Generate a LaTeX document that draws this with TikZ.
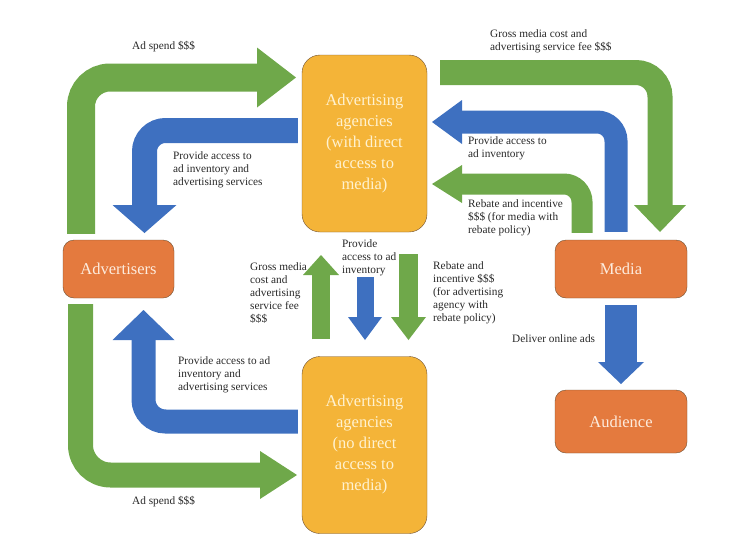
\documentclass[tikz,border=0pt]{standalone}
\usepackage{fontspec}
\setmainfont{Liberation Serif}

% heads of the broad flow arrows: colour, base point, half width, length
\newcommand{\headright}[4]{\fill[#1] (#2) ++(0,-#3) -- ++(#4,#3) -- ++(-#4,#3) -- cycle;}
\newcommand{\headleft}[4]{\fill[#1] (#2) ++(0,-#3) -- ++(-#4,#3) -- ++(#4,#3) -- cycle;}
\newcommand{\headup}[4]{\fill[#1] (#2) ++(-#3,0) -- ++(#3,-#4) -- ++(#3,#4) -- cycle;}
\newcommand{\headdown}[4]{\fill[#1] (#2) ++(-#3,0) -- ++(#3,#4) -- ++(#3,-#4) -- cycle;}

\begin{document}
\begin{tikzpicture}[x=1pt, y=-1pt,
    agency/.style={draw=boxline, fill=agencyfill, rounded corners=18pt,
      minimum width=125pt, minimum height=177pt, inner sep=0pt,
      align=center, text=agencytext, font=\fontsize{16.5}{21}\selectfont},
    party/.style={draw=boxline, fill=partyfill, rounded corners=11pt,
      minimum height=58pt, inner sep=0pt, text=partytext,
      font=\fontsize{16.5}{20}\selectfont},
    lbl/.style={anchor=north west, inner sep=0pt, align=left,
      text=labeltext, font=\fontsize{11.3}{13}\selectfont},
    greenflow/.style={draw=flowgreen},
    blueflow/.style={draw=flowblue}]

  % Colors: office-like green, blue, orange and gold
  \definecolor{flowgreen}{RGB}{111,168,74}
  \definecolor{flowblue}{RGB}{62,112,192}
  \definecolor{agencyfill}{RGB}{244,180,56}
  \definecolor{agencytext}{RGB}{255,242,208}
  \definecolor{partyfill}{RGB}{228,122,62}
  \definecolor{partytext}{RGB}{253,236,222}
  \definecolor{boxline}{RGB}{110,80,50}
  \definecolor{labeltext}{RGB}{40,40,40}

  \useasboundingbox (0,0) rectangle (747,555);

  % --- boxes ---
  \node[agency] (agdirect) at (364.5,143.5) {Advertising\\agencies\\(with direct\\access to\\media)};
  \node[agency] (agnodirect) at (364.5,445) {Advertising\\agencies\\(no direct\\access to\\media)};
  \node[party, minimum width=111pt] (advertisers) at (118.5,269) {Advertisers};
  \node[party, minimum width=132pt] (media) at (621,269) {Media};
  \node[party, minimum width=132pt, minimum height=63pt] (audience) at (621,421.5) {Audience};

  % --- advertisers -> agency with direct access: ad spend ---
  \coordinate (spendtop) at (257,77.5);
  \draw[greenflow, line width=28pt, rounded corners=29pt]
    ([xshift=-37.5pt,yshift=6pt]advertisers.north) |- (spendtop);
  \headright{flowgreen}{spendtop}{30}{39}

  % agency with direct access -> advertisers: services
  \coordinate (servtop) at (144.5,205);
  \draw[blueflow, line width=25pt, rounded corners=21pt]
    ([xshift=-4pt,yshift=13pt]agdirect.west) -| (servtop);
  \headdown{flowblue}{servtop}{32}{28}

  % --- agency with direct access <-> media ---
  \coordinate (grosstop) at (660,205);
  \draw[greenflow, line width=25pt, rounded corners=24pt]
    ([xshift=13pt,yshift=71pt]agdirect.east) -| (grosstop);
  \headdown{flowgreen}{grosstop}{26}{27}

  \coordinate (mediaaccess) at (462,122);
  \draw[blueflow, line width=23pt, rounded corners=19pt]
    ([xshift=-5pt,yshift=8pt]media.north) |- (mediaaccess);
  \headleft{flowblue}{mediaaccess}{22}{30}

  \coordinate (mediarebate) at (462,184);
  \draw[greenflow, line width=21pt, rounded corners=18pt]
    ([xshift=-39pt,yshift=7pt]media.north) |- (mediarebate);
  \headleft{flowgreen}{mediarebate}{19}{30}

  % --- between the two agencies ---
  \coordinate (grossmid) at (321,275);
  \draw[greenflow, line width=18pt]
    ([xshift=-43.5pt,yshift=17pt]agnodirect.north) -- (grossmid);
  \headup{flowgreen}{grossmid}{18}{20}

  \coordinate (accessmid) at (365,317);
  \draw[blueflow, line width=17pt]
    ([xshift=0.5pt,yshift=-45pt]agdirect.south) -- (accessmid);
  \headdown{flowblue}{accessmid}{17}{23}

  \coordinate (rebatemid) at (408.5,317);
  \draw[greenflow, line width=19pt]
    ([xshift=44pt,yshift=-22pt]agdirect.south) -- (rebatemid);
  \headdown{flowgreen}{rebatemid}{17.5}{23}

  % --- agency with no direct access <-> advertisers ---
  \coordinate (servbot) at (143.5,340);
  \draw[blueflow, line width=24pt, rounded corners=22pt]
    ([xshift=-4pt,yshift=23.5pt]agnodirect.west) -| (servbot);
  \headup{flowblue}{servbot}{31}{30}

  \coordinate (spendbot) at (260,475);
  \draw[greenflow, line width=25pt, rounded corners=30pt]
    ([xshift=-38pt,yshift=-6pt]advertisers.south) |- (spendbot);
  \headright{flowgreen}{spendbot}{24}{37}

  % --- media -> audience ---
  \coordinate (deliver) at (621,362);
  \draw[blueflow, line width=32pt]
    ([yshift=-7pt]media.south) -- (deliver);
  \headdown{flowblue}{deliver}{23}{22}

  % --- labels ---
  \node[lbl] (spendtoplbl) at (132,41) {Ad spend \$\$\$};
  \node[lbl] (servtoplbl) at (173,151) {Provide access to\\ad inventory and\\advertising services};
  \node[lbl] (grosstoplbl) at (490,29) {Gross media cost and\\advertising service fee \$\$\$};
  \node[lbl] (mediaaccesslbl) at (468,136) {Provide access to\\ad inventory};
  \node[lbl] (mediarebatelbl) at (468,199) {Rebate and incentive\\\$\$\$ (for media with\\rebate policy)};
  \node[lbl] (grossmidlbl) at (250,262) {Gross media\\cost and\\advertising\\service fee\\\$\$\$};
  \node[lbl] (accessmidlbl) at (342,239) {Provide\\access to ad\\inventory};
  \node[lbl] (rebatemidlbl) at (433,261) {Rebate and\\incentive \$\$\$\\(for advertising\\agency with\\rebate policy)};
  \node[lbl] (servbotlbl) at (178,356) {Provide access to ad\\inventory and\\advertising services};
  \node[lbl] (spendbotlbl) at (132,496) {Ad spend \$\$\$};
  \node[lbl] (deliverlbl) at (512,334) {Deliver online ads};

\end{tikzpicture}
\end{document}
